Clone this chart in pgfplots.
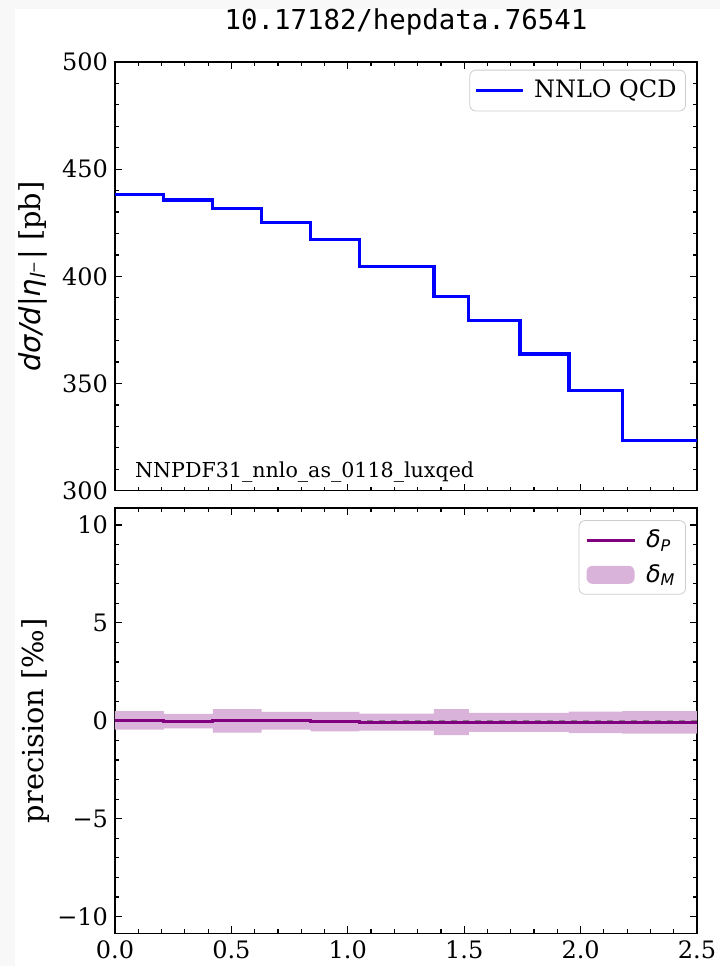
\documentclass[border=0pt]{standalone}
\usepackage{fontspec}
\setmainfont{DejaVu Serif}
\newfontfamily\dvs{DejaVu Sans}
\newfontfamily\dvsm{DejaVu Sans Mono}
\usepackage{pgfplots}
\pgfplotsset{compat=1.18}
\definecolor{plumc}{RGB}{217,179,217}
\definecolor{purp}{RGB}{128,0,128}
\definecolor{bgg}{RGB}{248,248,248}
\pgfplotsset{
  myax/.style={
    scale only axis, width=291pt,
    xmin=0, xmax=2.5,
    xtick={0,0.5,1,1.5,2,2.5}, minor x tick num=4,
    tick pos=both, tick align=inside,
    major tick length=3.5pt, minor tick length=2pt,
    every tick/.style={black, line width=0.6pt},
    axis line style={line width=0.8pt},
    tick label style={font=\fontsize{12}{14}\selectfont},
    label style={font=\fontsize{14.4}{16}\selectfont},
    legend cell align=left,
  }
}
\begin{document}
\begin{tikzpicture}[x=1pt,y=1pt]
\fill[bgg] (0,0) rectangle (360,483);
\fill[white] (7.5,0) rectangle (360,478.5);

\begin{axis}[myax,
  at={(57.5pt,237.65pt)}, anchor=south west,
  height=214.35pt,
  ymin=300, ymax=500,
  ytick={300,350,400,450,500}, yticklabels={300,350,400,450,500},
  minor y tick num=4,
  xticklabels={},
  ylabel={{\dvs\itshape dσ/d|η\textsubscript{l\textsuperscript{−}}|} [pb]},
  ylabel style={at={(axis description cs:-0.141,0.5)}, anchor=center},
  title={10.17182/hepdata.76541},
  every axis title shift=0pt,
  title style={at={(axis description cs:0.5,1)}, anchor=center, yshift=20pt, font=\dvsm\fontsize{13.7}{15}\selectfont},
  legend style={at={(0.981,0.982)}, anchor=north east, draw=black!20, rounded corners=3pt,
    font=\fontsize{12}{14}\selectfont, inner xsep=2.5pt, inner ysep=3pt, column sep=2.5pt},
  legend image code/.code={\draw[#1] (0pt,0pt) -- (23.5pt,0pt);},
]
\addplot[const plot, color=blue, line width=1.6pt] coordinates {
(0,438.0)(0.21,435.6)(0.42,431.5)(0.63,425.3)(0.84,417.3)(1.05,404.7)
(1.37,390.6)(1.52,379.4)(1.74,363.8)(1.95,346.9)(2.18,323.3)(2.5,323.3)};
\addlegendentry{NNLO QCD}
\node[anchor=base west, inner sep=0pt, font=\fontsize{10.3}{12}\selectfont] at (rel axis cs:0.034,0.03) {NNPDF31\_nnlo\_as\_0118\_luxqed};
\end{axis}

\begin{axis}[myax,
  at={(57.5pt,16.35pt)}, anchor=south west,
  height=212.5pt,
  ymin=-10.85, ymax=10.85,
  ytick={-10,-5,0,5,10}, yticklabels={−10,−5,0,5,10},
  minor y tick num=4,
  xticklabels={0.0,0.5,1.0,1.5,2.0,2.5},
  ylabel={precision [‰]},
  ylabel style={at={(axis description cs:-0.137,0.5)}, anchor=center},
  legend style={at={(0.981,0.972)}, anchor=north east, draw=black!20, rounded corners=3pt,
    font=\fontsize{12}{14}\selectfont, inner xsep=3pt, inner ysep=2.5pt, row sep=3pt, column sep=3pt},
  reverse legend,
]
\addplot[fill=plumc, draw=none, legend image code/.code={\fill[plumc] (0pt,-4.5pt) rectangle (24pt,4.5pt);}] coordinates {
(0,0.49)(0.21,0.49)(0.21,0.35)(0.42,0.35)(0.42,0.59)(0.63,0.59)(0.63,0.45)(0.84,0.45)
(0.84,0.46)(1.05,0.46)(1.05,0.36)(1.37,0.36)(1.37,0.59)(1.52,0.59)(1.52,0.41)(1.74,0.41)
(1.74,0.41)(1.95,0.41)(1.95,0.47)(2.18,0.47)(2.18,0.50)(2.5,0.50)
(2.5,-0.66)(2.18,-0.66)(2.18,-0.63)(1.95,-0.63)(1.95,-0.57)(1.74,-0.57)(1.74,-0.57)(1.52,-0.57)
(1.52,-0.73)(1.37,-0.73)(1.37,-0.50)(1.05,-0.50)(1.05,-0.54)(0.84,-0.54)(0.84,-0.45)(0.63,-0.45)
(0.63,-0.61)(0.42,-0.61)(0.42,-0.39)(0.21,-0.39)(0.21,-0.45)(0,-0.45)};
\addlegendentry{{\dvs\itshape δ\textsubscript{M}}}
\addplot[forget plot, gray, dashed, line width=0.5pt] coordinates {(0,0)(2.5,0)};
\addplot[const plot, color=purp, line width=1.5pt, legend image code/.code={\draw[purp, line width=1.5pt] (0pt,0pt) -- (24pt,0pt);}] coordinates {
(0,0.02)(0.21,-0.02)(0.42,-0.01)(0.63,0.0)(0.84,-0.04)(1.05,-0.07)
(1.37,-0.07)(1.52,-0.08)(1.74,-0.08)(1.95,-0.08)(2.18,-0.08)(2.5,-0.08)};
\addlegendentry{{\dvs\itshape δ\textsubscript{P}}}
\end{axis}
\pgfresetboundingbox
\path (0,0) rectangle (360,483);
\end{tikzpicture}
\end{document}
